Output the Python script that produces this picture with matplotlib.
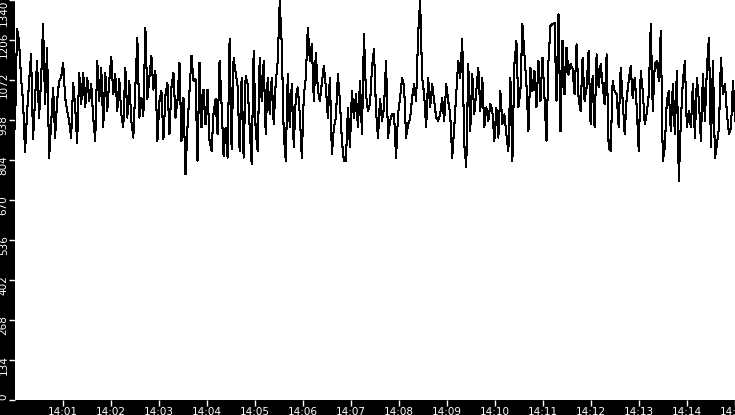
import pandas as pd
import matplotlib
matplotlib.use('Agg')
import matplotlib.pyplot as plt
import matplotlib.dates as mdates
from matplotlib.transforms import ScaledTranslation

# readings, 14:00:00 to 14:15:00, one every 2.5 s
seg1 = [907, 1242, 1203, 1080, 1002, 829, 960, 1063, 1158, 873,
        1010, 1136, 946, 1069, 1259, 991, 1181, 812, 924, 1047,
        879, 1002, 1069, 1080, 1130, 1013, 969, 935, 879, 1063,
        980, 862, 1097, 991, 1097, 980, 1080, 1002, 1058, 946,
        868, 1136, 1002, 1114, 913, 1097, 969, 1069, 1150, 1024,
        1091, 969, 1075, 957, 913, 1114, 946, 1069, 935, 879]
seg2 = [1047, 1214, 946, 1013, 952, 1248, 1008, 1080, 1153, 1040,
        1102, 868, 1000, 1035, 873, 1020, 1063, 890, 1047, 1097,
        946, 1002, 1130, 868, 1013, 756, 913, 1035, 1153, 1069,
        1075, 801, 1130, 913, 1040, 924, 1040, 868, 834, 960,
        1008, 890, 1136, 991, 818, 912, 812, 1209, 840, 1147,
        1097, 1052, 834, 1080, 812, 1086, 1058, 913, 790, 1170]
seg3 = [901, 834, 1147, 1000, 1136, 890, 1080, 957, 1080, 924,
        1063, 1136, 1337, 1192, 890, 801, 1091, 913, 1058, 846,
        1013, 1047, 957, 812, 1020, 1080, 1248, 1136, 1192, 1002,
        1164, 1040, 1002, 1063, 1119, 1047, 946, 1080, 823, 913,
        946, 1091, 1002, 868, 801, 801, 980, 846, 1035, 946,
        1024, 913, 1069, 890, 1225, 1024, 969, 991, 1114, 1175]
seg4 = [968, 879, 1010, 935, 980, 1136, 879, 935, 957, 957,
        812, 957, 1013, 1080, 1050, 879, 924, 942, 1013, 1058,
        1002, 1225, 1337, 1080, 1024, 913, 1080, 980, 1058, 1002,
        946, 935, 957, 1013, 935, 1058, 1002, 957, 812, 913,
        1024, 1136, 1080, 1209, 857, 779, 1125, 901, 1091, 957,
        1035, 1114, 969, 1080, 913, 980, 935, 991, 969, 868]
seg5 = [980, 879, 1035, 924, 957, 890, 834, 1080, 801, 1125,
        1203, 980, 1035, 1259, 1158, 1058, 901, 1114, 1035, 1102,
        980, 1136, 1002, 1147, 1013, 868, 1136, 1253, 1259, 1264,
        1002, 1292, 901, 1203, 1024, 1181, 1090, 1125, 1110, 1024,
        1192, 1013, 968, 1147, 1002, 1047, 1170, 924, 1085, 913,
        1158, 1047, 1125, 1058, 991, 1158, 846, 834, 1069, 1035]
seg6 = [1024, 913, 1114, 1002, 890, 1013, 1069, 1119, 1010, 1080,
        980, 834, 1102, 1035, 924, 960, 1024, 1259, 969, 1125,
        1136, 1070, 1237, 801, 846, 1002, 1035, 901, 1058, 890,
        1102, 734, 935, 1069, 1136, 913, 969, 913, 1058, 879,
        1080, 1002, 868, 1091, 935, 1114, 1214, 846, 1136, 812,
        857, 913, 1147, 1024, 1058, 957, 890, 913, 1069, 935]

values = seg1 + seg2 + seg3 + seg4 + seg5 + seg6
times = pd.date_range('2024-01-01 14:00:00', '2024-01-01 14:15:00', periods=len(values))

y_ticks = [0, 134, 268, 402, 536, 670, 804, 938, 1072, 1206, 1340]
x_ticks = pd.date_range('2024-01-01 14:01:00', '2024-01-01 14:15:00', freq='1min')

fig = plt.figure(figsize=(7.35, 4.15), dpi=100, facecolor='black')
ax = fig.add_axes([15 / 735, 15 / 415, 720 / 735, 400 / 415])
ax.set_facecolor('white')

ax.plot(times, values, color='black', linewidth=0.75, antialiased=False)

ax.set_xlim(pd.Timestamp('2024-01-01 14:00:00'), pd.Timestamp('2024-01-01 14:15:00'))
ax.set_ylim(0, 1340)
ax.set_xticks(x_ticks)
ax.xaxis.set_major_formatter(mdates.DateFormatter('%H:%M'))
ax.set_yticks(y_ticks)
ax.set_yticklabels([str(v) for v in y_ticks], rotation=90, va='center')

for s in ax.spines.values():
    s.set_visible(False)

ax.tick_params(colors='white', labelsize=7.5, length=4, width=1)
ax.tick_params(axis='x', pad=1)
ax.tick_params(axis='y', pad=0.5)

# y labels sit a few pixels below their ticks, end ones kept inside
shift = ScaledTranslation(0, -5 / 100, fig.dpi_scale_trans)
labels = ax.get_yticklabels()
for lab in labels[1:-1]:
    lab.set_transform(lab.get_transform() + shift)
labels[-1].set_va('top')
labels[0].set_va('bottom')

fig.savefig('out.png', dpi=100, facecolor='black')
